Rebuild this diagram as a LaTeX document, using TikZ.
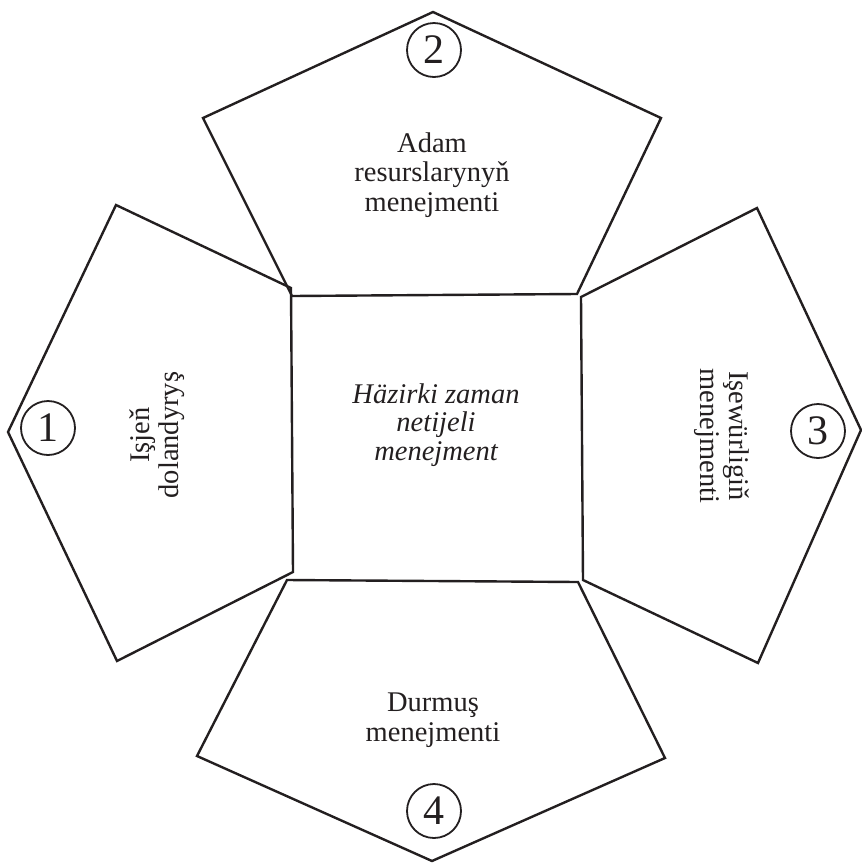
\documentclass[tikz,border=0pt]{standalone}
\usepackage{fontspec}
\setmainfont{Liberation Serif}
\definecolor{ink}{HTML}{231F20}
\tikzset{
  panel/.style={draw=ink, line width=2.4pt, line join=miter},
  label/.style={text=ink, align=center, inner sep=0pt, font=\fontsize{28.5}{29.5}\selectfont},
  num/.style={draw=ink, line width=1.8pt, circle, minimum size=54pt, inner sep=0pt, text=ink, font=\fontsize{42}{42}\selectfont}
}
\begin{document}
\begin{tikzpicture}[x=1pt,y=-1pt]
\useasboundingbox (0,0) rectangle (862,863);
% top pentagon
\coordinate (t1) at (292,296);
\coordinate (t2) at (203,118);
\coordinate (t3) at (433,12);
\coordinate (t4) at (661,118);
\coordinate (t5) at (577,294);
\draw[panel] (t1) -- (t2) -- (t3) -- (t4) -- (t5) -- cycle;
% left pentagon
\coordinate (l1) at (291,288);
\coordinate (l2) at (116,205);
\coordinate (l3) at (8,432);
\coordinate (l4) at (117,661);
\coordinate (l5) at (293,572);
\draw[panel] (l1) -- (l2) -- (l3) -- (l4) -- (l5) -- cycle;
% right pentagon
\coordinate (r1) at (581,297);
\coordinate (r2) at (757,208);
\coordinate (r3) at (861,430);
\coordinate (r4) at (758,663);
\coordinate (r5) at (583,580);
\draw[panel] (r1) -- (r2) -- (r3) -- (r4) -- (r5) -- cycle;
% bottom pentagon
\coordinate (b1) at (287,580);
\coordinate (b2) at (578,582);
\coordinate (b3) at (665,758);
\coordinate (b4) at (432,861);
\coordinate (b5) at (197,756);
\draw[panel] (b1) -- (b2) -- (b3) -- (b4) -- (b5) -- cycle;
% texts
\node[label] (ttop) at (432,175) {Adam\\resurslarynyň\\menejmenti};
\node[label, font=\fontsize{28.5}{28.5}\selectfont\itshape] (tmid) at (436,425) {Häzirki zaman\\netijeli\\menejment};
\node[label] (tbot) at (433,720) {Durmuş\\menejmenti};
\node[label, rotate=90] (tleft) at (157,435) {Işjeň\\dolandyryş};
\node[label, rotate=-90] (tright) at (722,436) {Işewürligiň\\menejmenti};
% numbers
\node[num] (n1) at (48,428) {1};
\node[num] (n2) at (434,50) {2};
\node[num] (n3) at (818,431) {3};
\node[num] (n4) at (434,811) {4};
\end{tikzpicture}
\end{document}
